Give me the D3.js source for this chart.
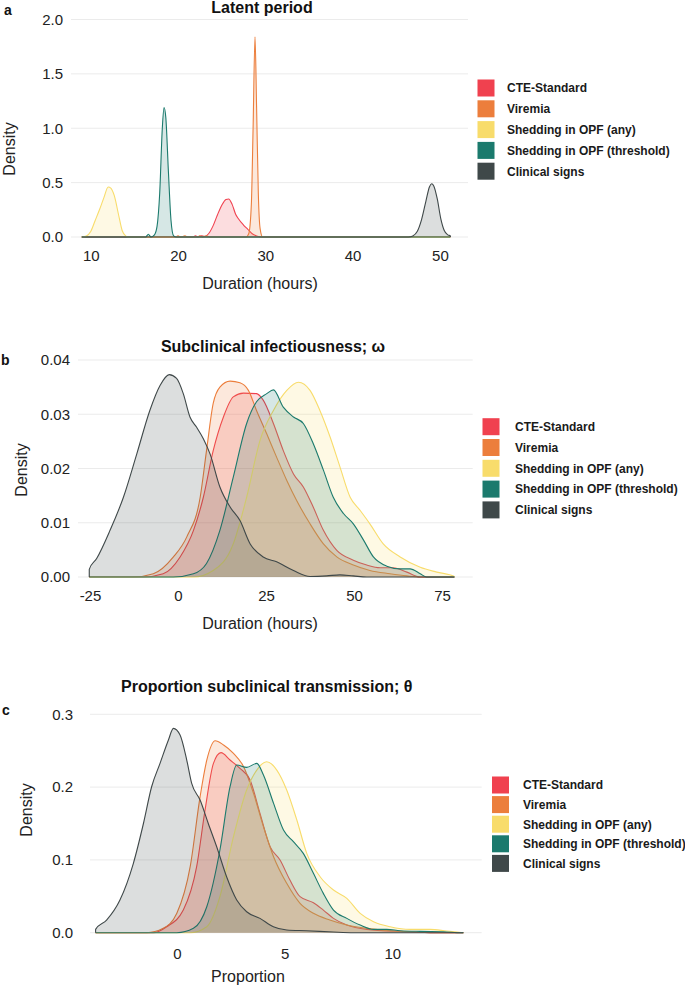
<!DOCTYPE html>
<html><head><meta charset="utf-8">
<script src="https://cdn.jsdelivr.net/npm/d3@7"></script>
<style>
html,body{margin:0;padding:0;background:#fff;}
svg text{font-family:"Liberation Sans",Arial,sans-serif;}
</style></head>
<body>
<svg id="chart" width="685" height="986"></svg>
<script>
// ---------- DATA ----------
const seriesNames = ["CTE-Standard","Viremia","Shedding in OPF (any)","Shedding in OPF (threshold)","Clinical signs"];
const seriesColors = ["#F0414F","#EC7E3C","#F8DC6B","#1B7A6D","#3F4849"];

// Panel a: Latent period (duration hours, density)
const latentTicksX = [10,20,30,40,50];
const latentTicksY = [0,0.5,1.0,1.5,2.0];
const latentRange = [8.97, 51.2];
const latentCTE = [[21.7,0],[22.0,0.012],[22.3,0],[22.7,0.012],[23.0,0.005],[23.5,0.03],[24.0,0.1],[24.5,0.2],[25.0,0.29],[25.5,0.345],[25.8,0.35],[26.2,0.3],[26.6,0.21],[26.9,0.17],[27.5,0.11],[28.0,0.07],[28.5,0.03],[29.0,0.01],[29.6,0]];
const latentViremia = [[19.7,0],[20.0,0.012],[20.3,0],[20.8,0.01],[21.1,0],[22.2,0],[22.5,0.012],[22.8,0],[23.3,0.012],[23.6,0],[27.8,0],[28.1,0.03],[28.4,0.3],[28.6,1.0],[28.82,1.84],[29.0,1.2],[29.2,0.4],[29.4,0.08],[29.7,0]];
const latentAny = [[8.97,0],[9.5,0.01],[10.0,0.05],[10.5,0.15],[11.0,0.25],[11.5,0.36],[12.0,0.46],[12.3,0.45],[12.7,0.38],[13.2,0.2],[13.6,0.06],[14.0,0.01],[14.3,0]];
const latentThreshold = [[16.3,0],[16.6,0.025],[16.9,0],[17.3,0.02],[17.6,0.1],[17.9,0.4],[18.2,1.0],[18.4,1.19],[18.6,1.1],[18.9,0.6],[19.2,0.15],[19.5,0.01],[19.8,0]];
const latentClinical = [[46.4,0],[46.9,0.01],[47.4,0.05],[47.9,0.16],[48.4,0.33],[48.8,0.46],[49.05,0.49],[49.3,0.47],[49.7,0.35],[50.1,0.17],[50.5,0.06],[50.9,0.02],[51.2,0.01]];

// Panel b: Subclinical infectiousness (duration hours, density)
const omegaTicksX = [-25,0,25,50,75];
const omegaTicksY = [0,0.01,0.02,0.03,0.04];
const omegaRange = [-25.2, 78.5];
const omegaCTE = [[-9.8,0],[-4.2,0.0006],[0.6,0.0037],[4.4,0.0086],[7.2,0.0147],[10,0.0233],[12.9,0.0295],[15.7,0.0332],[18.6,0.0339],[22.3,0.0338],[24.2,0.0326],[27.1,0.0283],[29.9,0.0233],[32.8,0.019],[35.6,0.0166],[38.4,0.0129],[41.3,0.0086],[45.1,0.0049],[49.8,0.0031],[53.6,0.0022],[57.4,0.0017],[61.2,0.0017],[65,0.0009],[68.8,0]];
const omegaViremia = [[-12.7,0],[-7,0.0006],[-1.3,0.0037],[2.5,0.0074],[6.3,0.0147],[8.1,0.0233],[10.0,0.032],[11.9,0.035],[14.8,0.0361],[17.6,0.0358],[20.0,0.0344],[22.3,0.0307],[25.2,0.0264],[28.0,0.0221],[30.9,0.0178],[33.7,0.0141],[37.5,0.0098],[41.3,0.0061],[45.1,0.0037],[49.8,0.0022],[54.5,0.0012],[60.2,0.0006],[65,0.0002],[68.8,0]];
const omegaAny = [[4.4,0],[10,0.0012],[15.7,0.0061],[19.5,0.0147],[23.3,0.0252],[27.1,0.0307],[30.9,0.0344],[34.2,0.0359],[37.5,0.0344],[40.3,0.0307],[43.2,0.0258],[46,0.0203],[48.9,0.0147],[51.7,0.0123],[54.5,0.0098],[58.3,0.0061],[63.1,0.0037],[68.8,0.0018],[73.5,0.0009],[78.5,0.0001]];
const omegaThreshold = [[-1.3,0],[4.4,0.0006],[8.1,0.0025],[11.9,0.0086],[15.7,0.0184],[19.5,0.0283],[22.3,0.0323],[25.2,0.0338],[27.1,0.0345],[29.9,0.0313],[32.8,0.0295],[35.6,0.0283],[38.4,0.0246],[41.3,0.0197],[44.1,0.0147],[47.0,0.0117],[49.8,0.0098],[52.7,0.0068],[55.5,0.0037],[59.3,0.002],[63.1,0.0015],[65.9,0.0015],[68.8,0.0006],[70.6,0]];
const omegaClinical = [[-25.2,0.0014],[-23.1,0.0034],[-19.3,0.0086],[-15.5,0.0147],[-11.7,0.0227],[-8.0,0.0307],[-5.1,0.0353],[-2.5,0.0373],[-0.4,0.0366],[1.5,0.0338],[3.4,0.0295],[5.3,0.0276],[7.2,0.0255],[9.1,0.0227],[11.9,0.0166],[14.8,0.0129],[17.6,0.0104],[20.5,0.0061],[24.2,0.0037],[28.0,0.0028],[32.8,0.0012],[37.5,0.0001],[42.2,0.0002],[46,0.0004],[49.8,0.0002],[53.6,0]];

// Panel c: Proportion subclinical transmission (proportion, density)
const thetaTicksX = [0,5,10];
const thetaTicksY = [0,0.1,0.2,0.3];
const thetaRange = [-3.77, 13.3];
const thetaCTE = [[-1.09,0],[-0.47,0.0082],[0.3,0.0311],[0.92,0.0907],[1.31,0.1685],[1.7,0.2326],[2.05,0.2473],[2.47,0.2372],[2.93,0.2257],[3.4,0.2097],[3.86,0.1639],[4.33,0.1181],[4.79,0.0998],[5.25,0.0723],[5.72,0.0495],[6.34,0.0412],[6.8,0.0311],[7.27,0.0197],[7.89,0.0105],[8.82,0.0046],[10.36,0.0018],[11.29,0.0009],[11.9,0]];
const thetaViremia = [[-1.4,0],[-0.63,0.006],[0,0.0266],[0.62,0.0907],[1.08,0.1868],[1.39,0.237],[1.78,0.2637],[2.17,0.2578],[2.63,0.2463],[3.1,0.228],[3.56,0.1914],[4.02,0.1456],[4.49,0.1044],[5.1,0.0678],[5.72,0.0403],[6.34,0.0266],[7.1,0.0174],[7.89,0.0105],[8.82,0.006],[9.9,0.0027],[11.1,0.0009],[11.9,0]];
const thetaAny = [[0.62,0],[1.39,0.0082],[2.0,0.0495],[2.63,0.1319],[3.24,0.196],[3.71,0.2234],[4.17,0.2349],[4.64,0.2234],[5.1,0.196],[5.57,0.1548],[6.03,0.109],[6.65,0.0769],[7.27,0.0586],[7.89,0.0472],[8.51,0.0266],[9.13,0.0151],[9.9,0.0082],[10.83,0.0046],[11.76,0.0046],[12.53,0.0023],[13.3,0]];
const thetaThreshold = [[0,0],[0.77,0.006],[1.39,0.0357],[2.0,0.1136],[2.47,0.2005],[2.78,0.2303],[3.24,0.2271],[3.71,0.2326],[4.02,0.2166],[4.49,0.1777],[4.95,0.141],[5.41,0.125],[5.87,0.109],[6.34,0.0815],[6.8,0.054],[7.27,0.0311],[7.89,0.0197],[8.51,0.0105],[9.13,0.0046],[9.75,0.0046],[10.36,0.0027],[11.29,0.0018],[12.37,0.0014],[13.2,0]];
const thetaClinical = [[-3.77,0.0046],[-3.26,0.0174],[-2.64,0.0449],[-2.02,0.095],[-1.55,0.15],[-1.17,0.2005],[-0.78,0.2326],[-0.39,0.2647],[-0.16,0.2807],[0.15,0.2715],[0.46,0.2372],[0.69,0.2051],[1.08,0.1822],[1.46,0.15],[1.85,0.1181],[2.31,0.0769],[2.78,0.0449],[3.24,0.0288],[3.86,0.0197],[4.48,0.0082],[5.1,0.0037],[6.03,0.0027],[7.27,0.0009],[8.2,0]];

// ---------- DRAW ----------
const svg = d3.select("#chart");

function drawPanel(cfg) {
  const x = d3.scaleLinear().domain(cfg.xDom).range(cfg.xPx);
  const y = d3.scaleLinear().domain([0, cfg.yTicks[cfg.yTicks.length-1]]).range([cfg.y0, cfg.yTop]);
  const g = svg.append("g");

  // grid
  g.selectAll("line.grid").data(cfg.yTicks).join("line")
    .attr("x1", cfg.xPx[0]).attr("x2", cfg.xPx[1])
    .attr("y1", d => y(d)).attr("y2", d => y(d))
    .attr("stroke", "#ebebeb").attr("stroke-width", 1);

  // densities
  const area = d3.area().x(d => x(d[0])).y0(y(0)).y1(d => y(d[1])).curve(d3.curveMonotoneX);
  const line = d3.line().x(d => x(d[0])).y(d => y(d[1])).curve(d3.curveMonotoneX);
  cfg.series.forEach((s, i) => {
    let pts = s.slice();
    if (pts[0][0] > cfg.range[0]) pts.unshift([cfg.range[0], 0]);
    if (pts[pts.length-1][0] < cfg.range[1]) pts.push([cfg.range[1], 0]);
    const col = seriesColors[i];
    g.append("path").datum(pts).attr("d", area).attr("fill", col).attr("fill-opacity", 0.18);
    const outline = [[pts[0][0], 0], ...pts, [pts[pts.length-1][0], 0]];
    g.append("path").datum(outline).attr("d", line).attr("fill", "none")
      .attr("stroke", col).attr("stroke-width", 1.1).attr("stroke-linejoin", "round");
  });

  // y axis
  const ya = g.append("g").attr("transform", `translate(${cfg.yLabRight},0)`)
    .call(d3.axisLeft(y).tickValues(cfg.yTicks).tickFormat(d3.format(cfg.yFmt)).tickSize(0).tickPadding(0));
  ya.select(".domain").remove();
  ya.selectAll("text").attr("font-size", 15).attr("fill", "#222").attr("font-family", "Liberation Sans, Arial, sans-serif");

  // x axis
  const xa = g.append("g").attr("transform", `translate(0,${cfg.y0})`)
    .call(d3.axisBottom(x).tickValues(cfg.xTicks).tickFormat(d => String(d)).tickSize(0).tickPadding(cfg.xLabBase - cfg.y0 - 10.6));
  xa.select(".domain").remove();
  xa.selectAll("text").attr("font-size", 15).attr("fill", "#222").attr("font-family", "Liberation Sans, Arial, sans-serif");

  // title
  if (cfg.titleBox) {
    g.append("rect").attr("x", cfg.titleBox[0]).attr("y", 0).attr("width", cfg.titleBox[1]-cfg.titleBox[0]).attr("height", cfg.titleY + 6).attr("fill", "#fff");
  }
  g.append("text").attr("x", cfg.titleX).attr("y", cfg.titleY).attr("text-anchor", "middle")
    .attr("font-size", 16).attr("font-weight", "bold").attr("fill", "#111").text(cfg.title);
  g.append("text").attr("x", cfg.tagX).attr("y", cfg.tagY).attr("font-size", 14).attr("font-weight", "bold").attr("fill", "#111").text(cfg.tag);

  // axis titles
  g.append("text").attr("x", cfg.xTitleX).attr("y", cfg.xTitleY).attr("text-anchor", "middle")
    .attr("font-size", 16).attr("fill", "#222").text(cfg.xTitle);
  g.append("text").attr("transform", `translate(${cfg.yTitleX},${cfg.yTitleY}) rotate(-90)`)
    .attr("text-anchor", "middle").attr("font-size", 16).attr("fill", "#222").text("Density");

  // legend
  const lg = g.append("g").attr("transform", `translate(${cfg.legX},${cfg.legY})`);
  seriesNames.forEach((n, i) => {
    const row = lg.append("g").attr("transform", `translate(0,${i*cfg.legStep})`);
    row.append("rect").attr("x", 0).attr("y", -8.5).attr("width", 17).attr("height", 17).attr("fill", seriesColors[i]);
    row.append("text").attr("x", cfg.legTextDx).attr("y", 4.3).attr("font-size", 12).attr("font-weight", "bold").attr("fill", "#1a1a1a").text(n);
  });
}

drawPanel({
  series: [latentCTE, latentViremia, latentAny, latentThreshold, latentClinical],
  range: latentRange, xDom: [7.74, 53.22], xPx: [71, 468], xTicks: latentTicksX,
  yTicks: latentTicksY, y0: 237, yTop: 19.5, yFmt: ".1f", yLabRight: 63, xLabBase: 261,
  title: "Latent period", titleX: 262, titleY: 13, titleBox: [207, 390], tag: "a", tagX: 4, tagY: 15,
  xTitle: "Duration (hours)", xTitleX: 260, xTitleY: 289, yTitleX: 15, yTitleY: 149,
  legX: 477.5, legY: 88, legStep: 20.8, legTextDx: 29.5
});
drawPanel({
  series: [omegaCTE, omegaViremia, omegaAny, omegaThreshold, omegaClinical],
  range: omegaRange, xDom: [-28.4, 83.7], xPx: [78, 472.7], xTicks: omegaTicksX,
  yTicks: omegaTicksY, y0: 577, yTop: 360, yFmt: ".2f", yLabRight: 70, xLabBase: 601,
  title: "Subclinical infectiousness; \u03c9", titleX: 273, titleY: 352, titleBox: null, tag: "b", tagX: 1, tagY: 365,
  xTitle: "Duration (hours)", xTitleX: 260, xTitleY: 629, yTitleX: 27, yTitleY: 470,
  legX: 482.5, legY: 426.7, legStep: 20.8, legTextDx: 32.5
});
drawPanel({
  series: [thetaCTE, thetaViremia, thetaAny, thetaThreshold, thetaClinical],
  range: thetaRange, xDom: [-4.03, 14.15], xPx: [90, 481.7], xTicks: thetaTicksX,
  yTicks: thetaTicksY, y0: 932.7, yTop: 714.3, yFmt: ".1f", yLabRight: 73, xLabBase: 959,
  title: "Proportion subclinical transmission; \u03b8", titleX: 266.7, titleY: 692, titleBox: null, tag: "c", tagX: 2, tagY: 715,
  xTitle: "Proportion", xTitleX: 248, xTitleY: 982, yTitleX: 32, yTitleY: 810,
  legX: 492, legY: 785, legStep: 19.6, legTextDx: 31
});
</script>
</body></html>
